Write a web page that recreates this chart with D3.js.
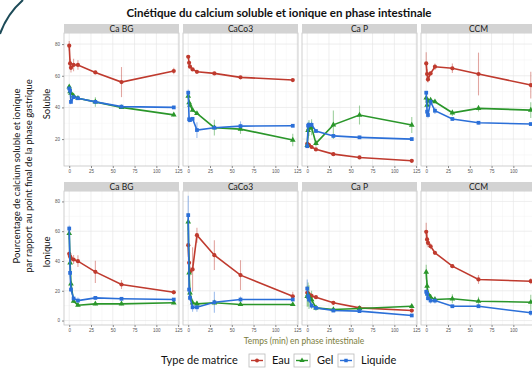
<!DOCTYPE html>
<html>
<head>
<meta charset="utf-8">
<script src="https://cdn.jsdelivr.net/npm/d3@7"></script>
<style>
  body { margin: 0; background: #fff; }
  svg { display: block; font-family: Lato, "Open Sans", sans-serif; }
</style>
</head>
<body>
<div id="chart"></div>
<script>
// sampling times (min) and labels
const times = [0, 1, 2, 5, 10, 30, 60, 120];
const matrices = ["Eau", "Gel", "Liquide"];
const facets = ["Ca BG", "CaCo3", "Ca P", "CCM"];
const rowNames = ["Soluble", "Ionique"];
const xTicks = [0, 25, 50, 75, 100, 125];
const yTicks = [0, 20, 40, 60, 80];

// soluble: [Eau, Gel, Liquide]
const solCaBG = [[79, 67.8, 65, 66.8, 66.8, 62.1, 56, 63], [53, 50, 49, 47.3, 45.8, 43.5, 40, 35.3], [52, 50.5, 43.5, 46.5, 45.8, 43.5, 40.5, 40]];
const solCaBGErr = [[3, 3, 3, 4, 3, 1, 9.5, 2], [1, 1, 1, 1, 1, 3, 1, 1], [1, 1, 1, 1, 1, 1, 1, 1]];
const solCaCo3 = [[72, 68.2, 65.7, 64, 62.5, 61.5, 59, 57.3], [47.2, 43, 41.5, 38.3, 36.2, 27.2, 26.3, 19.4], [49.3, 32.5, 32, 32.8, 25.7, 27.2, 28.2, 28.4]];
const solCaCo3Err = [[0.5, 0.5, 0.5, 0.5, 0.5, 0.5, 0.5, 0.5], [1, 1, 1, 1, 1, 5, 3, 4], [2, 2, 1, 1, 5, 1, 3, 1]];
const solCaP = [[17, 16.5, 16.2, 15, 13.5, 10.5, 8.4, 6.3], [16, 25.5, 27, 27.5, 17.3, 29, 35.2, 28.9], [15.5, 28.5, 29, 29, 25.1, 22, 21.1, 20]];
const solCaPErr = [[1, 1, 1, 1, 1, 1, 1, 1], [1, 5, 5, 5, 2, 9, 6, 5], [1, 2, 2, 2, 1, 1, 1, 1]];
const solCCM = [[67.8, 61.1, 57.7, 61.5, 65.7, 64.7, 61.1, 54.1], [46, 41.5, 44.2, 44.6, 43.6, 36.6, 39.4, 38.3], [49.3, 37.3, 35.2, 43.6, 37.9, 32.7, 30.3, 29.5]];
const solCCMErr = [[7, 3, 2, 1, 2, 3, 13.5, 8.5], [1, 2, 1, 1, 1, 2, 2, 5], [1, 2, 2, 2, 2, 1, 1, 1]];

// ionique: [Eau, Gel, Liquide]
const ionCaBG = [[44.8, 43, 41.7, 41, 39.9, 32.7, 24.2, 19], [58.5, 38.8, 24.7, 13, 10.3, 11.2, 11.2, 11.9], [61.8, 32, 20.8, 14.8, 13.4, 15.2, 14.6, 14.1]];
const ionCaBGErr = [[2, 2, 3, 3, 4, 7.5, 3, 1.5], [4, 1, 1, 1, 1, 1, 1, 1], [2, 1, 1, 1, 2, 1, 1, 1]];
const ionCaCo3 = [[50.6, 38.8, 32.7, 34.3, 57.3, 43.9, 30.5, 16.3], [66.3, 32, 18.6, 11.9, 11.2, 11.9, 10.8, 10.8], [70.8, 20.8, 15.2, 8.9, 8.9, 12.3, 14.1, 14.1]];
const ionCaCo3Err = [[8, 4, 3, 15, 5, 10, 10, 3], [6, 3, 2, 2, 2, 1, 1, 1], [13, 4, 2, 3, 3, 7, 2, 1]];
const ionCaP = [[18.6, 18, 17.5, 16.5, 15.7, 11.9, 8.5, 6.7], [16.3, 17.5, 15.7, 14, 8.5, 7.4, 8.1, 9.6], [21.5, 16.3, 14.1, 10, 8.5, 6.7, 6.3, 3.4]];
const ionCaPErr = [[3, 2, 2, 2, 1, 1, 1, 1], [7, 8, 8, 6, 2, 1, 1, 1], [6, 3, 2, 2, 1, 1, 1, 1]];
const ionCCM = [[59.6, 54.5, 52.2, 49.9, 45.5, 36.5, 27.6, 26.4], [32.5, 23.1, 18, 15.7, 14.1, 14.6, 13, 12.3], [19.3, 17.9, 15, 13.4, 13.4, 9.6, 9.6, 5.2]];
const ionCCMErr = [[6, 4, 3, 2, 1, 1, 3, 2], [5, 4, 3, 2, 2, 3, 3, 5], [2, 2, 2, 2, 2, 1, 1, 2]];

const colors = ["#bf3a2e", "#2a962a", "#2b6fd8"];
const shapes = [d3.symbolCircle, d3.symbolTriangle, d3.symbolSquare];

const grid = [
  [[solCaBG, solCaBGErr], [solCaCo3, solCaCo3Err], [solCaP, solCaPErr], [solCCM, solCCMErr]],
  [[ionCaBG, ionCaBGErr], [ionCaCo3, ionCaCo3Err], [ionCaP, ionCaPErr], [ionCCM, ionCCMErr]]
];

const width = 532, height = 368;
const svg = d3.select("#chart").append("svg")
  .attr("width", width).attr("height", height);

// slide decoration in the corner
svg.append("path")
  .attr("d", "M0,34 Q7,14 23,0")
  .attr("fill", "none").attr("stroke", "#1d4b58").attr("stroke-width", 2);

svg.append("text")
  .attr("x", 279).attr("y", 17)
  .attr("text-anchor", "middle")
  .attr("font-size", 11.5).attr("font-weight", "bold")
  .attr("fill", "#111")
  .text("Cinétique du calcium soluble et ionique en phase intestinale");

// panel geometry
const panelW = 115;
const panelX = [64, 183, 302, 421];
const rowsGeo = [
  { strip: 24, top: 33, bottom: 166, domain: [3, 87] },
  { strip: 182, top: 191, bottom: 325, domain: [-3, 87] }
];

const x = d3.scaleLinear().domain([-6, 126]).range([0, panelW]);

rowsGeo.forEach((rg, ri) => {
  const y = d3.scaleLinear().domain(rg.domain).range([rg.bottom - rg.top, 0]);
  const ph = rg.bottom - rg.top;

  facets.forEach((fname, fi) => {
    const g = svg.append("g")
      .attr("transform", "translate(" + panelX[fi] + "," + rg.top + ")");

    // strip
    svg.append("rect")
      .attr("x", panelX[fi]).attr("y", rg.strip)
      .attr("width", panelW).attr("height", rg.top - rg.strip)
      .attr("fill", "#d3d3d3");
    svg.append("text")
      .attr("x", panelX[fi] + panelW / 2).attr("y", rg.strip + 7.6)
      .attr("text-anchor", "middle").attr("font-size", 8.5)
      .attr("fill", "#1a1a1a").text(fname);

    g.append("rect").attr("width", panelW).attr("height", ph).attr("fill", "#fff");

    // minor + major grid
    const xMinor = d3.range(12.5, 126, 25);
    const yMinor = d3.range(10, 87, 20).filter(v => v > rg.domain[0]);
    g.selectAll(".xm").data(xMinor).join("line")
      .attr("x1", d => x(d)).attr("x2", d => x(d)).attr("y1", 0).attr("y2", ph)
      .attr("stroke", "#f3f3f3").attr("stroke-width", 0.5);
    g.selectAll(".ym").data(yMinor).join("line")
      .attr("y1", d => y(d)).attr("y2", d => y(d)).attr("x1", 0).attr("x2", panelW)
      .attr("stroke", "#f3f3f3").attr("stroke-width", 0.5);
    g.selectAll(".xg").data(xTicks).join("line")
      .attr("x1", d => x(d)).attr("x2", d => x(d)).attr("y1", 0).attr("y2", ph)
      .attr("stroke", "#e6e6e6").attr("stroke-width", 0.7);
    g.selectAll(".yg").data(yTicks.filter(v => v > rg.domain[0])).join("line")
      .attr("y1", d => y(d)).attr("y2", d => y(d)).attr("x1", 0).attr("x2", panelW)
      .attr("stroke", "#e6e6e6").attr("stroke-width", 0.7);

    g.append("rect").attr("width", panelW).attr("height", ph)
      .attr("fill", "none").attr("stroke", "#c4c4c4").attr("stroke-width", 0.8);

    // x axis
    const xa = g.append("g").attr("transform", "translate(0," + ph + ")")
      .call(d3.axisBottom(x).tickValues(xTicks).tickSize(2).tickPadding(1.5));
    xa.select(".domain").remove();
    xa.selectAll("line").attr("stroke", "#888");
    xa.selectAll("text").attr("font-size", 4.5).attr("fill", "#555");

    if (fi === 0) {
      const ya = g.append("g")
        .call(d3.axisLeft(y).tickValues(yTicks.filter(v => v > rg.domain[0])).tickSize(2).tickPadding(2));
      ya.select(".domain").remove();
      ya.selectAll("line").attr("stroke", "#888");
      ya.selectAll("text").attr("font-size", 4.5).attr("fill", "#555");
    }

    const [vals, errs] = grid[ri][fi];
    const line = d3.line().x((d, i) => x(times[i])).y(d => y(d));

    vals.forEach((series, si) => {
      const col = colors[si];
      g.selectAll(".err" + si).data(series).join("line")
        .attr("x1", (d, i) => x(times[i])).attr("x2", (d, i) => x(times[i]))
        .attr("y1", (d, i) => y(d - errs[si][i])).attr("y2", (d, i) => y(d + errs[si][i]))
        .attr("stroke", col).attr("stroke-opacity", 0.45).attr("stroke-width", 1.1);
    });
    vals.forEach((series, si) => {
      const col = colors[si];
      g.append("path").datum(series)
        .attr("d", line).attr("fill", "none")
        .attr("stroke", col).attr("stroke-width", 1.6);
      g.selectAll(".pt" + si).data(series).join("path")
        .attr("transform", (d, i) => "translate(" + x(times[i]) + "," + y(d) + ")")
        .attr("d", d3.symbol().type(shapes[si]).size(14))
        .attr("fill", col);
    });
  });

  // row label
  const cy = ri === 0 ? 104 : 252;
  svg.append("text")
    .attr("transform", "translate(50," + cy + ") rotate(-90)")
    .attr("text-anchor", "middle").attr("font-size", 9.5).attr("fill", "#111")
    .text(rowNames[ri]);
});

// y title
svg.append("text")
  .attr("transform", "translate(20,176) rotate(-90)")
  .attr("text-anchor", "middle").attr("font-size", 9.5).attr("fill", "#111")
  .text("Pourcentage de calcium soluble et ionique");
svg.append("text")
  .attr("transform", "translate(32,176) rotate(-90)")
  .attr("text-anchor", "middle").attr("font-size", 9.5).attr("fill", "#111")
  .text("par rapport au point final de la phase gastrique");

// x title
svg.append("text")
  .attr("x", 304).attr("y", 344)
  .attr("text-anchor", "middle").attr("font-size", 8.5).attr("fill", "#7b7d3c")
  .text("Temps (min) en phase intestinale");

// legend
svg.append("text")
  .attr("x", 161).attr("y", 364)
  .attr("font-size", 11).attr("fill", "#111")
  .text("Type de matrice");

const legendX = [249, 294, 338];
const legendLabelX = [272, 317, 361];
matrices.forEach((m, i) => {
  const lg = svg.append("g").attr("transform", "translate(" + legendX[i] + ",354)");
  lg.append("rect").attr("width", 16).attr("height", 13)
    .attr("fill", "#fff").attr("stroke", "#bbb").attr("stroke-width", 0.8);
  lg.append("line").attr("x1", 2).attr("x2", 14).attr("y1", 6.5).attr("y2", 6.5)
    .attr("stroke", colors[i]).attr("stroke-width", 1.4);
  lg.append("path").attr("transform", "translate(8,6.5)")
    .attr("d", d3.symbol().type(shapes[i]).size(12)).attr("fill", colors[i]);
  svg.append("text")
    .attr("x", legendLabelX[i]).attr("y", 364)
    .attr("font-size", 11).attr("fill", "#111")
    .text(m);
});
</script>
</body>
</html>
